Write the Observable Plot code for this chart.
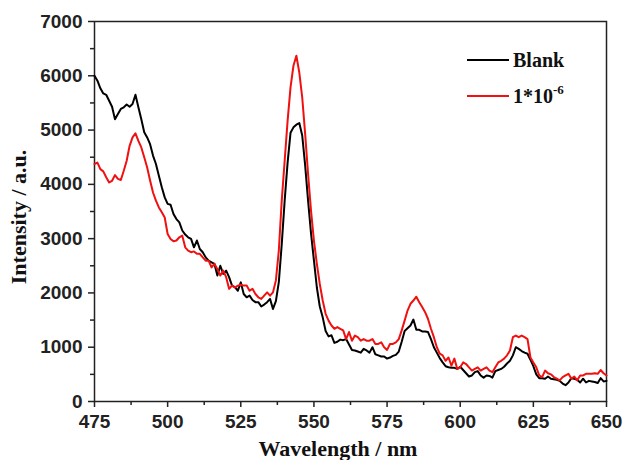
<!DOCTYPE html>
<html><head><meta charset="utf-8">
<script src="https://cdn.jsdelivr.net/npm/d3@7"></script>
<script src="https://cdn.jsdelivr.net/npm/@observablehq/plot@0.6"></script>
<style>body{margin:0;background:#fff} svg{display:block}</style>
</head><body><div id="chart"></div>
<script>
const wavelengths = d3.range(475, 651);
const blank = [
6000,5910,5770,5675,5650,5540,5430,5200,5295,5390,
5420,5470,5430,5480,5650,5420,5200,4960,4865,4740,
4530,4375,4160,3945,3760,3640,3625,3455,3360,3300,
3150,3075,3025,2995,2840,2965,2810,2750,2655,2595,
2565,2535,2320,2500,2350,2410,2290,2135,2105,2040,
2195,1980,1920,1950,1870,1830,1830,1750,1785,1830,
1890,1705,1850,2200,2900,3700,4400,4950,5050,5100,
5130,4900,4350,3700,3100,2600,2100,1750,1550,1300,
1200,1220,1080,1100,1140,1130,1150,1050,950,940,
920,900,970,940,900,1000,870,850,830,830,
790,810,840,860,920,1100,1300,1350,1400,1510,
1320,1320,1290,1290,1280,1150,1000,900,800,720,
650,630,620,620,600,640,580,520,460,480,
540,560,480,440,480,470,440,560,580,600,
640,700,750,850,1000,970,930,900,880,770,
650,500,430,430,420,460,420,410,400,380,
330,300,350,430,420,400,350,420,350,380,
370,360,340,430,370,380];
const sample = [
4375,4400,4280,4240,4130,4035,4065,4170,4100,4080,
4250,4435,4710,4865,4940,4800,4680,4500,4310,4070,
3850,3700,3575,3485,3390,3085,2995,2950,2965,3025,
3055,2840,2780,2750,2765,2720,2720,2655,2595,2595,
2470,2535,2440,2320,2410,2290,2075,2135,2100,2135,
2150,2135,2135,2040,2075,1980,1920,1890,1950,2010,
1950,2010,2230,2780,3700,4435,5170,5785,6185,6370,
6060,5600,4930,4190,3515,2965,2535,2165,1860,1615,
1490,1400,1340,1370,1340,1310,1150,1280,1120,1215,
1185,1120,1150,1120,1120,1150,1060,1060,1090,1000,
950,1060,1060,1090,1150,1310,1490,1675,1800,1860,
1930,1830,1740,1645,1520,1340,1185,1000,880,850,
750,810,660,790,600,630,720,690,630,570,
600,630,570,600,630,570,540,630,720,750,
790,850,940,1185,1215,1185,1215,1185,1150,810,
720,630,480,450,570,520,500,450,420,390,
450,480,510,420,460,390,480,480,510,510,
510,520,510,580,520,480];
const seriesNames = ["Blank", "1*10"];
const seriesColors = ["#000000", "#f01010"];
const xTicks = [475, 500, 525, 550, 575, 600, 625, 650];
const xMinor = [487.5, 512.5, 537.5, 562.5, 587.5, 612.5, 637.5];
const yTicks = [0, 1000, 2000, 3000, 4000, 5000, 6000, 7000];
const yMinor = [500, 1500, 2500, 3500, 4500, 5500, 6500];

const rows = [];
wavelengths.forEach((w, i) => {
  rows.push({w, v: blank[i], s: seriesNames[0]});
  rows.push({w, v: sample[i], s: seriesNames[1]});
});

const sans = "'Liberation Sans', Arial, sans-serif";
const serif = "'Liberation Serif', 'Times New Roman', serif";
const axisColor = "#222";

const chart = Plot.plot({
  width: 623, height: 460,
  marginLeft: 94, marginRight: 17, marginTop: 21, marginBottom: 59,
  style: {fontFamily: sans, fontWeight: "bold", fontSize: "19px", color: axisColor, background: "#fff"},
  x: {domain: [475, 650]},
  y: {domain: [0, 7000]},
  marks: [
    Plot.frame({stroke: axisColor, strokeWidth: 1.5}),
    Plot.axisX({ticks: xTicks, tickSize: 6, tickPadding: 7, tickFormat: d => String(d), stroke: axisColor, strokeWidth: 1.5, label: null, fontSize: 19, fontWeight: "bold"}),
    Plot.axisX({ticks: xMinor, tickSize: 4, tickFormat: () => "", stroke: axisColor, strokeWidth: 1.5, label: null}),
    Plot.axisY({ticks: yTicks, tickSize: 6, tickPadding: 6, tickFormat: d => String(d), stroke: axisColor, strokeWidth: 1.5, label: null, fontSize: 19, fontWeight: "bold"}),
    Plot.axisY({ticks: yMinor, tickSize: 4, tickFormat: () => "", stroke: axisColor, strokeWidth: 1.5, label: null}),
    Plot.line(rows, {x: "w", y: "v", z: "s", stroke: d => seriesColors[seriesNames.indexOf(d.s)], strokeWidth: 2, curve: "linear"})
  ]
});
document.getElementById("chart").appendChild(chart);

const svg = d3.select(chart);
svg.append("text").text("Wavelength / nm")
  .attr("x", 338).attr("y", 456).attr("text-anchor", "middle")
  .style("font-family", serif).style("font-weight", "bold").style("font-size", "22px").style("fill", "#111");
svg.append("text").text("Intensity / a.u.")
  .attr("transform", "translate(26,217) rotate(-90)").attr("text-anchor", "middle")
  .style("font-family", serif).style("font-weight", "bold").style("font-size", "22px").style("fill", "#111");

const leg = svg.append("g").attr("text-anchor", "start").style("font-family", serif).style("font-weight", "bold").style("font-size", "20px").style("fill", "#111");
[0, 1].forEach(i => {
  const y = 60 + i * 36;
  leg.append("line").attr("x1", 467).attr("x2", 509).attr("y1", y).attr("y2", y)
    .attr("stroke", seriesColors[i]).attr("stroke-width", 2);
  const t = leg.append("text").attr("x", 513).attr("y", y + 7).attr("text-anchor", "start").text(seriesNames[i]);
  if (i === 1) t.append("tspan").attr("dy", -9).style("font-size", "13px").text("-6");
});
</script></body></html>
